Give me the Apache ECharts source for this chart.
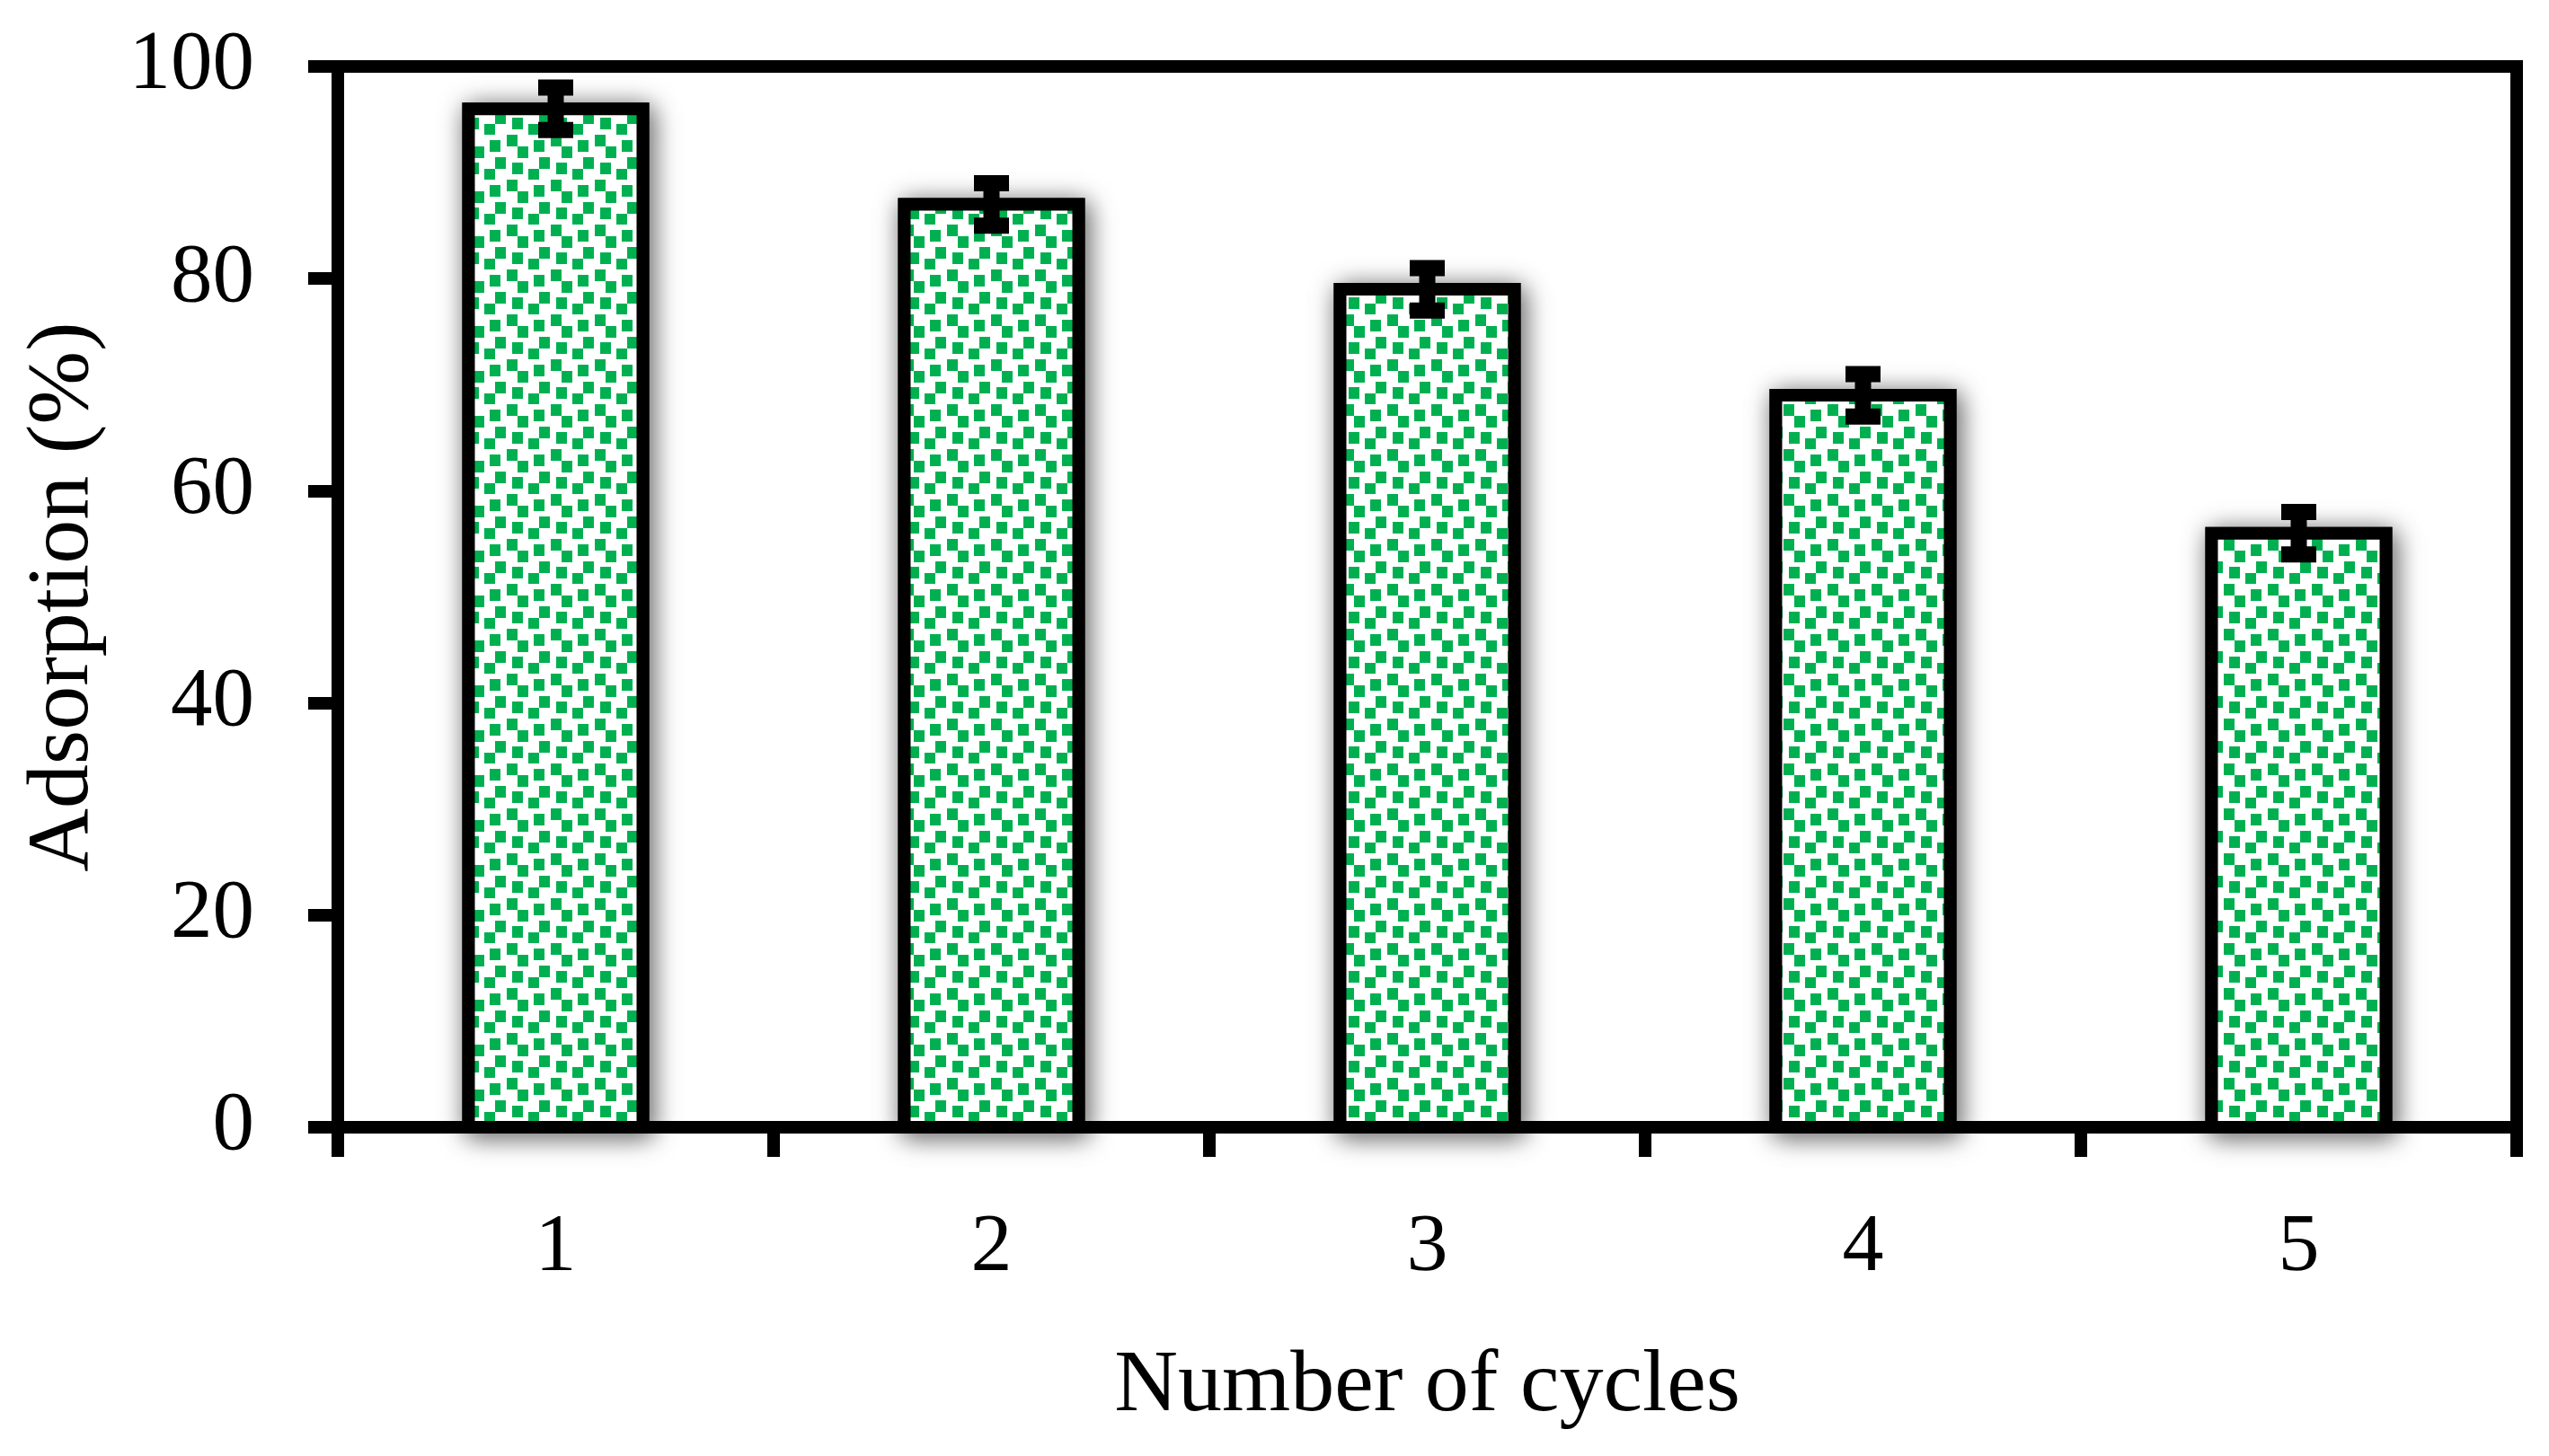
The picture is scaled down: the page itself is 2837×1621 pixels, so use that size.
<!DOCTYPE html>
<html>
<head>
<meta charset="utf-8">
<style>
  html, body { margin: 0; padding: 0; background: #ffffff; }
  #chart { width: 2837px; height: 1621px; }
</style>
<script src="https://cdn.jsdelivr.net/npm/echarts@6/dist/echarts.min.js"></script>
</head>
<body>
<div id="chart"></div>
<script>
// ---- data ----
const cycles = ['1', '2', '3', '4', '5'];
const adsorption = [96, 87, 79, 69, 56];
const errors = [2, 2, 2, 2, 2];
const yTicks = { min: 0, max: 100, interval: 20 };
const xName = 'Number of cycles';
const yName = 'Adsorption (%)';

// ---- confetti pattern tile (style only) ----
function makePattern() {
  const c = document.createElement('canvas');
  c.width = 49; c.height = 50;
  const g = c.getContext('2d');
  g.fillStyle = '#ffffff';
  g.fillRect(0, 0, 49, 50);
  g.fillStyle = '#00B050';
  const cw = 49 / 8, ch = 50 / 8;
  const cells = [[4, 0], [1, 1], [6, 2], [2, 4], [5, 5], [0, 6]];
  cells.forEach(function (p) {
    g.fillRect(Math.round(p[0] * cw), Math.round(p[1] * ch), Math.round(2 * cw), Math.round(2 * ch));
  });
  return c;
}
const PATTERN = { image: makePattern(), repeat: 'repeat' };

const FONT = "'Palatino Linotype', 'Book Antiqua', Palatino, 'Liberation Serif', serif";
const barData = adsorption.map(function (v, i) { return [i, v]; });
const errData = adsorption.map(function (v, i) { return [i, v, errors[i]]; });

const chart = echarts.init(document.getElementById('chart'), null, { renderer: 'canvas' });
chart.setOption({
  backgroundColor: '#ffffff',
  animation: false,
  grid: {
    left: 376, right: 36, top: 74, bottom: 366,
    show: true, borderColor: '#000000', borderWidth: 14, backgroundColor: 'transparent'
  },
  xAxis: {
    type: 'category',
    data: cycles,
    boundaryGap: true,
    axisLine: { show: true, lineStyle: { color: '#000000', width: 14 } },
    axisTick: { show: true, alignWithLabel: false, length: 33, lineStyle: { color: '#000000', width: 14 } },
    axisLabel: { margin: 89, color: '#000000', fontSize: 92, fontFamily: FONT },
    splitLine: { show: false },
    name: xName,
    nameLocation: 'middle',
    nameGap: 240,
    nameTextStyle: { color: '#000000', fontSize: 98, fontFamily: FONT }
  },
  yAxis: {
    type: 'value',
    min: yTicks.min, max: yTicks.max, interval: yTicks.interval,
    axisLine: { show: true, lineStyle: { color: '#000000', width: 14 } },
    axisTick: { show: true, length: 33, lineStyle: { color: '#000000', width: 14 } },
    axisLabel: { margin: 93, color: '#000000', fontSize: 93, fontFamily: FONT },
    splitLine: { show: false },
    name: yName,
    nameLocation: 'middle',
    nameGap: 256,
    nameRotate: 90,
    nameTextStyle: { color: '#000000', fontSize: 98, fontFamily: FONT }
  },
  series: [
    {
      type: 'custom',
      name: 'Adsorption',
      z: 2,
      data: barData,
      encode: { x: 0, y: 1 },
      renderItem: function (params, api) {
        const idx = api.value(0), v = api.value(1);
        const top = api.coord([idx, v]);
        const base = api.coord([idx, 0]);
        const w = api.size([1, 0])[0] * 0.4;
        const shape = { x: top[0] - w / 2, y: top[1], width: w, height: base[1] - top[1] };
        return {
          type: 'group',
          children: [
            {
              type: 'rect', shape: shape,
              style: {
                fill: '#ffffff', stroke: '#000000', lineWidth: 14,
                shadowBlur: 28, shadowColor: 'rgba(0,0,0,0.55)', shadowOffsetX: 4, shadowOffsetY: 4
              }
            },
            {
              type: 'rect', shape: shape,
              style: { fill: PATTERN, stroke: '#000000', lineWidth: 14 }
            }
          ]
        };
      }
    },
    {
      type: 'custom',
      name: 'Error',
      z: 5,
      data: errData,
      encode: { x: 0, y: 1 },
      renderItem: function (params, api) {
        const idx = api.value(0), v = api.value(1), e = api.value(2);
        const top = api.coord([idx, v + e]);
        const bot = api.coord([idx, v - e]);
        const x = top[0];
        const hw = 19.5;
        const st = { stroke: '#000000', lineWidth: 18, lineCap: 'butt' };
        return {
          type: 'group',
          children: [
            { type: 'line', shape: { x1: x, y1: top[1], x2: x, y2: bot[1] }, style: st },
            { type: 'line', shape: { x1: x - hw, y1: top[1], x2: x + hw, y2: top[1] }, style: st },
            { type: 'line', shape: { x1: x - hw, y1: bot[1], x2: x + hw, y2: bot[1] }, style: st }
          ]
        };
      }
    }
  ]
});
</script>
</body>
</html>
